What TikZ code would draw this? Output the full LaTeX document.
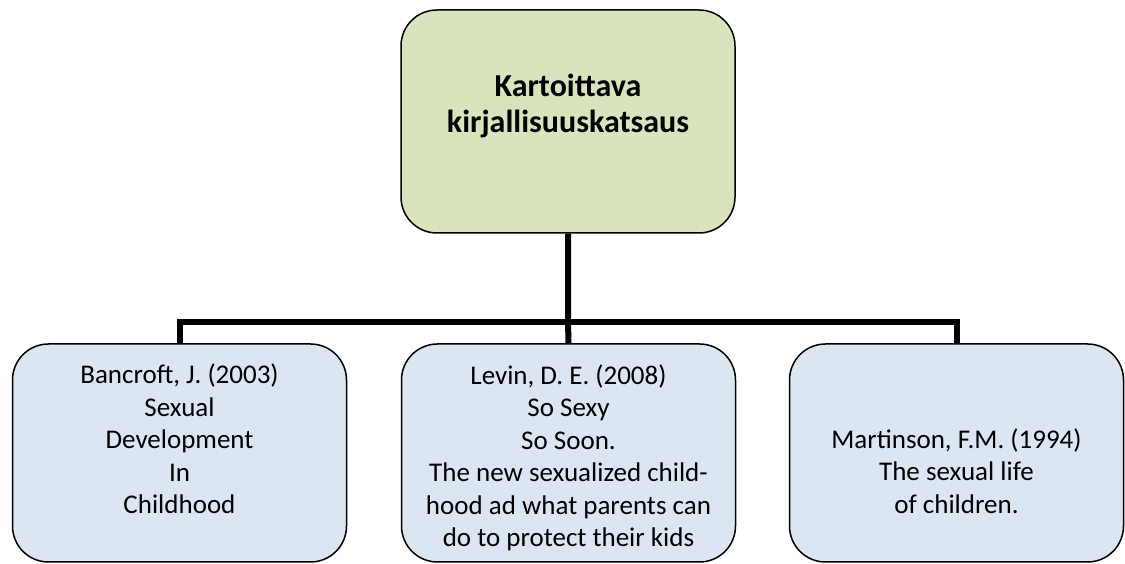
\documentclass[tikz,border=0pt]{standalone}
\usepackage{fontspec}
\setmainfont{Carlito}
\usetikzlibrary{calc,positioning}

\definecolor{rootgreen}{RGB}{215,228,189}
\definecolor{leafblue}{RGB}{220,230,242}

\begin{document}
\begin{tikzpicture}[
    x=1pt, y=1pt,
    every node/.style={font=\fontsize{27}{32.5}\selectfont, align=center},
    box/.style={draw=black, line width=1.5pt, rounded corners=36pt, inner sep=0pt},
    rootbox/.style={box, fill=rootgreen, minimum width=334pt, minimum height=223pt},
    leafbox/.style={box, fill=leafblue, minimum width=334pt, minimum height=218pt},
    conn/.style={line width=6pt},
]
\useasboundingbox (0,0) rectangle (1125,564);
\node[rootbox] (root) at (568,442.5) {};
\node[font=\fontsize{32}{36}\selectfont\bfseries] (title) at ([yshift=16pt]root.center)
  {Kartoittava\\kirjallisuuskatsaus};
\node[leafbox] (bancroft) at (179.5,111) {};
\node[leafbox] (levin) at (568.5,111) {};
\node[leafbox] (martinson) at (956.5,111) {};
\node (bancrofttext) at ([yshift=14pt]bancroft.center)
  {Bancroft, J. (2003)\\Sexual\\Development\\In\\Childhood};
\node (levintext) at ([yshift=-5pt]levin.center)
  {Levin, D. E. (2008)\\So Sexy\\So Soon.\\The new sexualized child-\\hood ad what parents can\\do to protect their kids};
\node (martinsontext) at ([yshift=-18pt]martinson.center)
  {Martinson, F.M. (1994)\\The sexual life\\of children.};
\coordinate (fork) at ($(root.south)+(0,-88)$);
\draw[conn] (root.south) -- (fork) -- (levin.north);
\draw[conn] (bancroft.north) |- (fork) -| (martinson.north);
\end{tikzpicture}
\end{document}
